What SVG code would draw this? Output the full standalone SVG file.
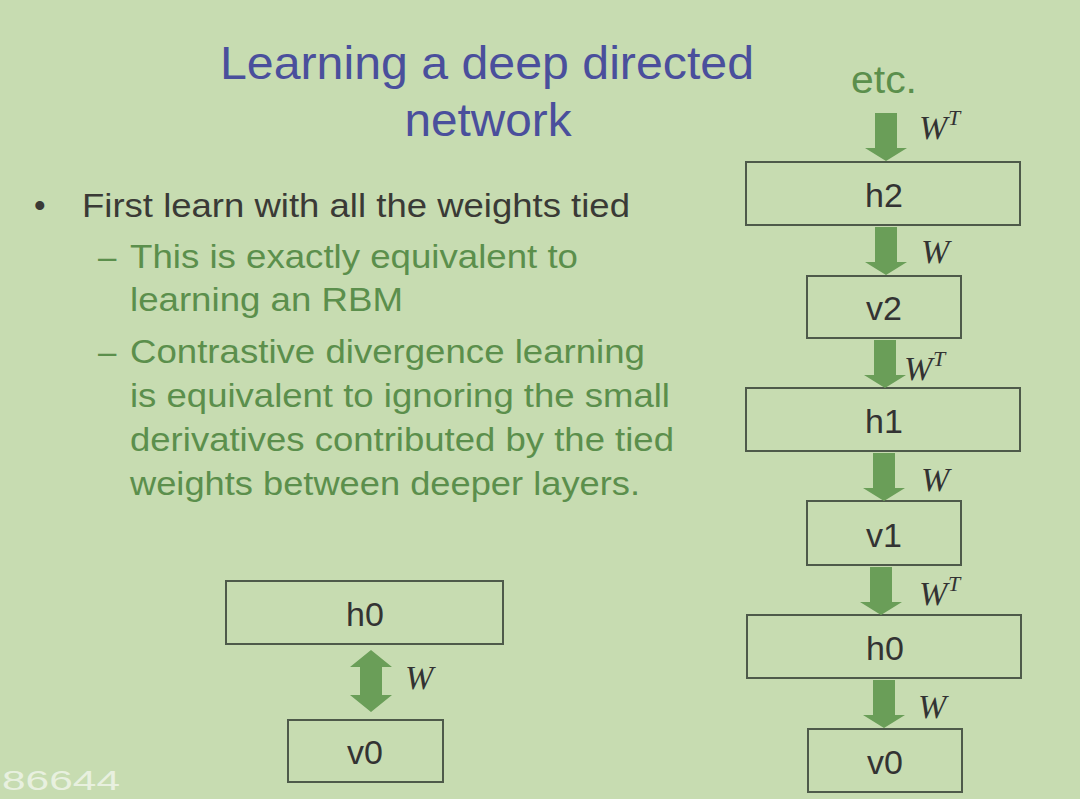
<svg xmlns="http://www.w3.org/2000/svg" width="1080" height="799" viewBox="0 0 1080 799">
<style>
.bg{fill:#c7dcb1}
.box{fill:none;stroke:#4e5a4a;stroke-width:2}
.lbl{font-family:"Liberation Sans",Arial,sans-serif;font-size:34px;fill:#333;text-anchor:middle}
.w{font-family:"Liberation Serif","Times New Roman",serif;font-style:italic;font-size:34px;fill:#333}
.sup{font-family:"Liberation Serif","Times New Roman",serif;font-style:italic;font-size:22px;fill:#333}
.arr{fill:#6a9e58}
.title{font-family:"Liberation Sans",Arial,sans-serif;font-size:46px;fill:#4a4f9c;text-anchor:middle}
.b1{font-family:"Liberation Sans",Arial,sans-serif;font-size:33px;fill:#3a3a36}
.b2{font-family:"Liberation Sans",Arial,sans-serif;font-size:33px;fill:#5b8f4c}
</style>
<defs>
<path id="down" d="M-11,0 H11 V35 H21 L0,48 L-21,35 H-11 Z"/>
</defs>
<rect class="bg" x="0" y="0" width="1080" height="799"/>
<g id="title">
<text class="title" x="487" y="79" textLength="534" lengthAdjust="spacingAndGlyphs">Learning a deep directed</text>
<text class="title" x="488" y="136" textLength="167" lengthAdjust="spacingAndGlyphs">network</text>
</g>
<g id="bullets">
<text class="b1" x="34" y="217">•</text>
<text class="b1" x="82" y="217" textLength="548" lengthAdjust="spacingAndGlyphs">First learn with all the weights tied</text>
<text class="b2" x="98" y="268">–</text>
<text class="b2" x="130" y="268" textLength="448" lengthAdjust="spacingAndGlyphs">This is exactly equivalent to</text>
<text class="b2" x="130" y="311" textLength="273" lengthAdjust="spacingAndGlyphs">learning an RBM</text>
<text class="b2" x="98" y="363">–</text>
<text class="b2" x="130" y="363" textLength="515" lengthAdjust="spacingAndGlyphs">Contrastive divergence learning</text>
<text class="b2" x="130" y="407" textLength="540" lengthAdjust="spacingAndGlyphs">is equivalent to ignoring the small</text>
<text class="b2" x="130" y="451" textLength="544" lengthAdjust="spacingAndGlyphs">derivatives contributed by the tied</text>
<text class="b2" x="130" y="495" textLength="510" lengthAdjust="spacingAndGlyphs">weights between deeper layers.</text>
</g>
<g id="etc"><text x="884" y="93" font-family="Liberation Sans,Arial,sans-serif" font-size="38" fill="#5b8f4c" text-anchor="middle" textLength="66" lengthAdjust="spacingAndGlyphs">etc.</text></g>
<g id="r-h2"><rect class="box" x="746" y="162" width="274" height="63"/><text class="lbl" x="884" y="207">h2</text></g>
<g id="r-v2"><rect class="box" x="807" y="276" width="154" height="62"/><text class="lbl" x="884" y="320">v2</text></g>
<g id="r-h1"><rect class="box" x="746" y="388" width="274" height="63"/><text class="lbl" x="884" y="433">h1</text></g>
<g id="r-v1"><rect class="box" x="807" y="501" width="154" height="64"/><text class="lbl" x="884" y="547">v1</text></g>
<g id="r-h0"><rect class="box" x="747" y="615" width="274" height="63"/><text class="lbl" x="885" y="660">h0</text></g>
<g id="r-v0"><rect class="box" x="808" y="729" width="154" height="63"/><text class="lbl" x="885" y="774">v0</text></g>
<g id="l-h0"><rect class="box" x="226" y="581" width="277" height="63"/><text class="lbl" x="365" y="626">h0</text></g>
<g id="l-v0"><rect class="box" x="288" y="720" width="155" height="62"/><text class="lbl" x="365" y="764">v0</text></g>
<g id="connectors">
<use href="#down" class="arr" transform="translate(886,113)"/>
<use href="#down" class="arr" transform="translate(886,227)"/>
<use href="#down" class="arr" transform="translate(885,340)"/>
<use href="#down" class="arr" transform="translate(884,453)"/>
<use href="#down" class="arr" transform="translate(881,567)"/>
<use href="#down" class="arr" transform="translate(884,680)"/>
<path class="arr" d="M371,650 L392,667 H382 V695 H392 L371,712 L350,695 H360 V667 H350 Z"/>
<text class="w" x="919" y="139">W</text><text class="sup" x="948" y="125">T</text>
<text class="w" x="921" y="263">W</text>
<text class="w" x="904" y="380">W</text><text class="sup" x="933" y="366">T</text>
<text class="w" x="921" y="491">W</text>
<text class="w" x="919" y="605">W</text><text class="sup" x="948" y="591">T</text>
<text class="w" x="918" y="718">W</text>
<text class="w" x="405" y="689">W</text>
</g>
<text x="2" y="790" font-family="Liberation Sans,Arial,sans-serif" font-size="28" fill="#ffffff" fill-opacity="0.6" textLength="118" lengthAdjust="spacingAndGlyphs">86644</text>
</svg>
